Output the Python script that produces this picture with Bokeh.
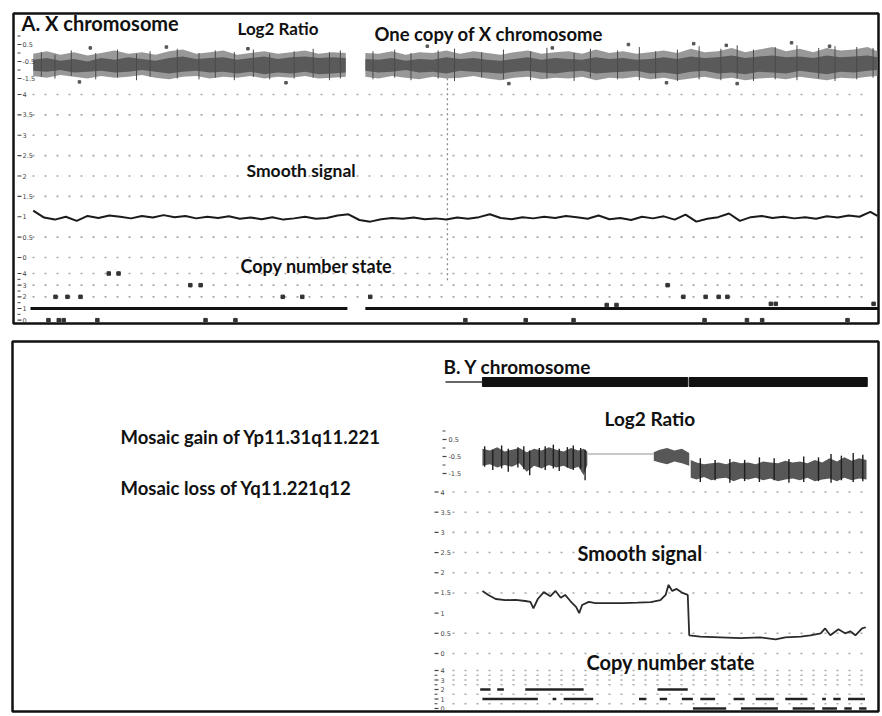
from bokeh.plotting import figure
from bokeh.models import Range1d
from bokeh.core.properties import value
from bokeh.embed import file_html
from bokeh.resources import INLINE

# ---------------- DATA ----------------
# Panel A: X chromosome, positions in Mb
a_log_left_pos = [0.5, 3, 5.5, 8, 10.5, 13, 15.5, 18, 20.5, 23, 25.5, 28, 30.5, 33, 35.5, 38, 40.5, 43, 45.5, 48, 50.5, 53, 55.5, 58]
a_log_left_hi = [-0.05, 0.10, -0.10, 0.05, -0.15, 0.00, 0.15, -0.05, 0.05, -0.10, 0.10, 0.20, -0.05, 0.05, 0.15, -0.10, 0.00, 0.10, -0.05, 0.05, 0.15, -0.05, 0.05, 0.00]
a_log_left_lo = [-1.35, -1.45, -1.30, -1.40, -1.50, -1.35, -1.45, -1.40, -1.30, -1.45, -1.55, -1.40, -1.35, -1.50, -1.40, -1.45, -1.35, -1.50, -1.40, -1.45, -1.35, -1.50, -1.45, -1.40]
a_log_left_core_hi = [-0.40, -0.30, -0.45, -0.35, -0.50, -0.30, -0.40, -0.25, -0.35, -0.45, -0.30, -0.20, -0.35, -0.30, -0.25, -0.40, -0.30, -0.20, -0.35, -0.25, -0.20, -0.30, -0.25, -0.30]
a_log_left_core_lo = [-1.05, -1.10, -1.00, -1.15, -1.10, -1.05, -1.15, -1.10, -1.00, -1.10, -1.20, -1.10, -1.05, -1.15, -1.10, -1.20, -1.10, -1.25, -1.15, -1.20, -1.10, -1.25, -1.20, -1.15]

a_log_right_pos = [61.6, 64, 66.5, 69, 71.5, 74, 76.5, 79, 81.5, 84, 86.5, 89, 91.5, 94, 96.5, 99, 101.5, 104, 106.5, 109, 111.5, 114, 116.5, 119, 121.5, 124, 126.5, 129, 131.5, 134, 136.5, 139, 141.5, 144, 146.5, 149, 151.5, 154, 155.8]
a_log_right_hi = [0.00, -0.05, 0.10, -0.10, 0.05, 0.00, 0.15, -0.05, 0.10, 0.00, -0.10, 0.05, 0.15, -0.05, 0.05, 0.10, -0.05, 0.20, 0.00, 0.10, -0.05, 0.05, 0.15, 0.00, 0.25, 0.05, 0.10, 0.30, 0.05, 0.20, 0.35, 0.10, 0.25, 0.05, 0.30, 0.15, 0.20, 0.35, 0.10]
a_log_right_lo = [-1.40, -1.50, -1.35, -1.45, -1.55, -1.40, -1.50, -1.45, -1.35, -1.50, -1.60, -1.45, -1.40, -1.55, -1.45, -1.50, -1.40, -1.60, -1.45, -1.50, -1.40, -1.55, -1.45, -1.60, -1.50, -1.40, -1.55, -1.45, -1.60, -1.50, -1.45, -1.55, -1.40, -1.50, -1.60, -1.45, -1.50, -1.40, -1.35]
a_log_right_core_hi = [-0.35, -0.40, -0.30, -0.45, -0.35, -0.40, -0.25, -0.35, -0.30, -0.40, -0.45, -0.35, -0.25, -0.40, -0.30, -0.35, -0.40, -0.25, -0.35, -0.30, -0.40, -0.35, -0.25, -0.35, -0.20, -0.30, -0.25, -0.15, -0.30, -0.20, -0.15, -0.25, -0.20, -0.30, -0.15, -0.25, -0.20, -0.15, -0.25]
a_log_right_core_lo = [-1.05, -1.15, -1.10, -1.00, -1.15, -1.10, -1.20, -1.05, -1.10, -1.15, -1.20, -1.10, -1.05, -1.15, -1.20, -1.10, -1.05, -1.20, -1.15, -1.10, -1.05, -1.20, -1.15, -1.25, -1.10, -1.05, -1.20, -1.15, -1.25, -1.10, -1.15, -1.20, -1.05, -1.15, -1.25, -1.10, -1.15, -1.05, -1.00]

a_log_spike_pos = [2, 4.5, 7.5, 12, 16, 19.5, 22, 27, 31, 34, 37.5, 41, 44, 48.5, 52, 55, 57,
                   63, 67, 70, 75, 78, 83, 87, 92, 95, 100, 103, 108, 112, 115, 119, 123, 127, 130, 133, 137, 141, 145, 148, 152, 155]
a_log_spike_top = [0.05, -0.10, 0.15, 0.00, 0.20, -0.05, 0.10, 0.25, 0.00, 0.15, 0.05, 0.20, -0.05, 0.10, 0.25, 0.05, 0.15,
                   0.10, 0.20, 0.00, 0.15, 0.25, 0.05, 0.20, 0.10, 0.30, 0.00, 0.25, 0.15, 0.35, 0.10, 0.20, 0.40, 0.25, 0.45, 0.20, 0.35, 0.45, 0.30, 0.40, 0.35, 0.30]
a_log_spike_bot = [-1.40, -1.50, -1.35, -1.55, -1.45, -1.60, -1.40, -1.50, -1.55, -1.45, -1.60, -1.40, -1.55, -1.50, -1.45, -1.60, -1.50,
                   -1.55, -1.45, -1.60, -1.50, -1.65, -1.45, -1.55, -1.60, -1.50, -1.65, -1.45, -1.55, -1.60, -1.50, -1.65, -1.55, -1.60, -1.50, -1.65, -1.55, -1.60, -1.50, -1.65, -1.55, -1.45]

a_log_out_pos = [11, 25, 40, 73, 96, 110, 122, 128, 140, 147, 9, 47, 88, 117, 130]
a_log_out_val = [0.30, 0.35, 0.25, 0.40, 0.30, 0.50, 0.55, 0.45, 0.60, 0.40, -1.70, -1.75, -1.80, -1.75, -1.80]

a_smooth_pos = [0.5, 2.5, 4.5, 6.5, 8.5, 10.5, 12.5, 14.5, 16.5, 18.5, 20.5, 22.5, 24.5, 26.5, 28.5, 30.5, 32.5, 34.5, 36.5, 38.5,
                40.5, 42.5, 44.5, 46.5, 48.5, 50.5, 52.5, 54.5, 56.5, 58.5, 60.5, 62.5, 64.5, 66.5, 68.5, 70.5, 72.5, 74.5, 76.5, 78.5,
                80.5, 82.5, 84.5, 86.5, 88.5, 90.5, 92.5, 94.5, 96.5, 98.5, 100.5, 102.5, 104.5, 106.5, 108.5, 110.5, 112.5, 114.5, 116.5, 118.5,
                120.5, 122.5, 124.5, 126.5, 128.5, 130.5, 132.5, 134.5, 136.5, 138.5, 140.5, 142.5, 144.5, 146.5, 148.5, 150.5, 152.5, 154.5, 155.8]
a_smooth_val = [1.15, 0.98, 0.93, 1.00, 0.90, 1.02, 0.97, 1.03, 1.00, 0.96, 1.02, 0.98, 1.04, 0.99, 1.02, 0.96, 1.00, 0.97, 1.01, 0.95,
                0.98, 0.94, 0.99, 0.93, 0.96, 1.00, 0.95, 0.97, 1.03, 1.06, 0.92, 0.88, 0.94, 0.97, 0.95, 0.98, 0.94, 0.96, 0.93, 0.98,
                0.95, 0.99, 1.06, 0.97, 0.94, 0.99, 0.96, 1.00, 0.97, 1.02, 0.99, 0.95, 1.03, 0.94, 0.97, 0.92, 1.00, 0.96, 1.01, 0.93,
                1.05, 0.88, 0.95, 0.99, 1.08, 0.90, 0.99, 1.02, 0.97, 1.00, 0.96, 0.99, 0.95, 1.01, 0.98, 1.03, 1.00, 1.12, 1.02]

a_cn_seg_start = [0.0, 61.6]
a_cn_seg_end = [58.3, 156.0]
a_cn_seg_state = [1, 1]
a_cn_mark_pos = [4.6, 6.8, 9.2, 14.4, 16.2, 29.4, 31.3, 46.4, 50.0, 62.5, 3.3, 5.2, 6.1, 12.3, 32.2, 37.7,
                 117.2, 120.1, 124.2, 126.6, 128.2, 136.2, 137.1, 106.0, 107.8, 155.1, 80.0, 91.1, 99.9, 124.0, 131.8, 134.6, 150.3]
a_cn_mark_state = [2, 2, 2, 4, 4, 3, 3, 2, 2, 2, 0, 0, 0, 0, 0, 0,
                   3, 2, 2, 2, 2, 1.4, 1.4, 1.3, 1.3, 1.4, 0, 0, 0, 0, 0, 0, 0]
a_cursor_mb = [76.7]

# Panel B: Y chromosome, positions in Mb
b_log_s1_pos = [5.0, 6.0, 7.0, 8.0, 9.0, 10.0, 11.0, 12.0, 13.0, 14.0, 15.0, 16.0, 17.0, 18.0, 18.7, 19.2]
b_log_s1_hi = [-0.05, -0.15, 0.05, -0.20, -0.10, 0.00, -0.25, -0.05, -0.15, 0.05, -0.10, -0.20, 0.00, -0.15, -0.05, -0.20]
b_log_s1_lo = [-1.05, -0.95, -1.15, -1.00, -1.10, -0.90, -1.40, -1.05, -1.20, -1.00, -1.15, -1.05, -1.25, -1.10, -1.60, -1.00]
b_log_s2_pos = [28.2, 29.0, 30.0, 31.0, 32.0, 33.0]
b_log_s2_hi = [-0.25, -0.10, 0.00, -0.15, -0.05, -0.30]
b_log_s2_lo = [-0.75, -0.85, -0.95, -0.80, -0.90, -1.05]
b_log_s3_pos = [33.2, 34, 35, 36, 37, 38, 39, 40, 41, 42, 43, 44, 45, 46, 47, 48, 49, 50, 51, 52, 53, 54, 55, 56, 57]
b_log_s3_hi = [-0.70, -0.85, -0.95, -0.90, -0.85, -0.95, -0.80, -0.90, -0.85, -0.95, -0.80, -0.85, -0.90, -0.75, -0.85, -0.80, -0.90, -0.70, -0.85, -0.60, -0.80, -0.55, -0.75, -0.60, -0.70]
b_log_s3_lo = [-1.75, -1.85, -1.70, -1.90, -1.80, -1.75, -1.95, -1.80, -1.85, -1.75, -1.90, -1.80, -1.95, -1.85, -1.80, -1.90, -1.75, -1.95, -1.85, -1.80, -1.95, -1.75, -1.90, -1.80, -1.85]
b_log_link_pos = [19.2, 28.2]
b_log_link_val = [-0.35, -0.35]
b_log_spike_pos = [5.3, 6.4, 7.6, 8.5, 9.8, 10.6, 11.4, 12.7, 13.5, 14.6, 15.4, 16.5, 17.3, 18.3, 18.9,
                   34.5, 36.5, 38.5, 40.5, 42.5, 44.5, 46.5, 48.5, 50.5, 52.2, 53.6, 55.2, 56.5]
b_log_spike_top = [0.10, -0.10, 0.15, -0.05, 0.05, 0.10, -0.15, 0.00, 0.10, 0.20, -0.05, 0.05, 0.15, 0.00, -0.10,
                   -0.60, -0.70, -0.65, -0.70, -0.55, -0.60, -0.65, -0.50, -0.55, -0.35, -0.45, -0.30, -0.40]
b_log_spike_bot = [-1.10, -1.30, -1.20, -1.40, -1.15, -1.25, -1.60, -1.10, -1.30, -1.20, -1.35, -1.15, -1.30, -1.20, -1.90,
                   -2.00, -1.90, -2.05, -1.95, -2.00, -1.90, -2.05, -2.00, -1.95, -2.05, -1.90, -2.00, -1.95]

b_smooth_pos = [5.0, 5.8, 6.8, 8.1, 9.5, 10.8, 11.5, 11.9, 12.5, 13.3, 14.2, 14.9, 15.6, 16.2, 16.9, 17.7, 18.1, 18.5, 19.4, 20.3,
                22.0, 24.0, 26.0, 27.8, 29.1, 29.8, 30.2, 30.7, 31.3, 32.1, 32.8, 33.0, 34.5, 37.2, 39.9, 42.6, 44.7, 46.0, 48.1, 49.4,
                50.8, 51.4, 52.1, 53.2, 54.1, 54.8, 55.5, 56.4, 56.9]
b_smooth_val = [1.55, 1.45, 1.35, 1.32, 1.33, 1.30, 1.28, 1.12, 1.35, 1.52, 1.42, 1.55, 1.38, 1.45, 1.30, 1.15, 1.00, 1.20, 1.28, 1.25,
                1.25, 1.25, 1.26, 1.27, 1.32, 1.45, 1.70, 1.55, 1.60, 1.50, 1.45, 0.45, 0.42, 0.40, 0.38, 0.40, 0.35, 0.40, 0.42, 0.45,
                0.50, 0.62, 0.45, 0.60, 0.50, 0.55, 0.45, 0.62, 0.65]

b_cn_seg_start = [4.7, 7.0, 10.8, 28.7, 5.0, 14.5, 16.0, 26.2, 29.0, 32.0, 34.5, 39.0, 42.0, 46.0, 51.0, 52.5, 54.5,
                  33.5, 40.0, 47.0, 51.0, 54.0, 56.0]
b_cn_seg_end = [6.1, 7.9, 18.7, 32.8, 12.5, 15.0, 20.0, 27.2, 30.0, 33.5, 36.5, 40.5, 44.5, 49.0, 51.5, 53.5, 56.8,
                38.0, 45.0, 50.0, 53.0, 55.0, 57.0]
b_cn_seg_state = [2, 2, 2, 2, 1, 1, 1, 1, 1, 1, 1, 1, 1, 1, 1, 1, 1,
                  0, 0, 0, 0, 0, 0]

b_ideo_start = [5.0, 33.0]
b_ideo_end = [32.8, 57.1]
b_ideo_lead = [0.0, 5.0]

# Axis ticks
log_ticks = [0.5, -0.5, -1.5]
log_tick_labels = ["0.5", "-0.5", "-1.5"]
log_minor = [1.0, 0.0, -1.0]
smooth_ticks = [4, 3.5, 3, 2.5, 2, 1.5, 1, 0.5, 0]
smooth_tick_labels = ["4", "3.5", "3", "2.5", "2", "1.5", "1", "0.5", "0"]
cn_ticks = [4, 3, 2, 1, 0]
cn_tick_labels = ["4", "3", "2", "1", "0"]
cn_minor = [3.5, 2.5, 1.5, 0.5]
smooth_grid = [4, 3.5, 3, 2.5, 2, 1.5, 0.5, 0]
cn_grid_a = [4, 3, 2]
cn_grid_b = [4, 3.5, 3, 2.5, 1.5, 0.5]

# ---------------- FIGURE ----------------
W, H = 880, 714
X0, X1 = 0, W      # page coordinates covered by the frame
YB, YT = H, 0


def xr(v1, px1, v2, px2):
    k = (v2 - v1) / (px2 - px1)
    return Range1d(start=v1 + (X0 - px1) * k, end=v1 + (X1 - px1) * k)


def yr(v1, py1, v2, py2):
    k = (v2 - v1) / (py2 - py1)
    return Range1d(start=v1 + (YB - py1) * k, end=v1 + (YT - py1) * k)


p = figure(width=W, height=H, x_range=Range1d(X0, X1), y_range=Range1d(YB, YT),
           output_backend="svg", toolbar_location=None, min_border=0,
           x_axis_location=None, y_axis_location=None)
p.grid.visible = False
p.outline_line_color = None
p.background_fill_color = "white"

p.extra_x_ranges = {"xA": xr(0, 30, 156, 878), "xB": xr(0, 445, 57, 866)}
p.extra_y_ranges = {
    "a_log": yr(0.5, 44, -1.5, 78),
    "a_sm": yr(0, 257, 4, 94),
    "a_cn": yr(1, 308, 4, 273),
    "b_log": yr(0.5, 439, -1.5, 473),
    "b_sm": yr(0, 653, 4, 491.5),
    "b_cn": yr(0, 708, 4, 670),
}

GRID = dict(line_color="#a8a8a8", line_width=1.6, line_dash="2 10")
TICKC = "#444444"
FONT = value("Lato")


def ticks(yname, vals, labels, minor, tx0, lx):
    p.segment(x0=[tx0] * len(vals), x1=[tx0 + 4] * len(vals), y0=vals, y1=vals,
              y_range_name=yname, line_color=TICKC, line_width=1.2)
    if minor:
        p.segment(x0=[tx0] * len(minor), x1=[tx0 + 3] * len(minor), y0=minor, y1=minor,
                  y_range_name=yname, line_color=TICKC, line_width=1.0)
    p.text(x=[lx] * len(vals), y=vals, text=labels, y_range_name=yname,
           text_font=value("DejaVu Sans"), text_font_size="6.5px", text_color=TICKC,
           text_baseline="middle", text_align="left")


def grid(yname, vals, gx0, gx1):
    p.segment(x0=[gx0] * len(vals), x1=[gx1] * len(vals), y0=vals, y1=vals,
              y_range_name=yname, **GRID)


# panel frames
p.quad(left=[13, 12], right=[878, 878], top=[13, 341], bottom=[323, 711],
       fill_color=None, line_color="#111111", line_width=2.5)

# ----- Panel A -----
grid("a_sm", smooth_grid, 32, 872)
grid("a_cn", cn_grid_a, 32, 872)
p.segment(x0=a_cursor_mb, x1=a_cursor_mb, y0=[4.4], y1=[-0.6], x_range_name="xA",
          y_range_name="a_sm", line_color="#888888", line_width=1.3, line_dash="2 3")

for pos, hi, lo, chi, clo in [
    (a_log_left_pos, a_log_left_hi, a_log_left_lo, a_log_left_core_hi, a_log_left_core_lo),
    (a_log_right_pos, a_log_right_hi, a_log_right_lo, a_log_right_core_hi, a_log_right_core_lo),
]:
    p.varea(x=pos, y1=lo, y2=hi, x_range_name="xA", y_range_name="a_log",
            fill_color="#8d8d8d", fill_alpha=0.9)
    p.varea(x=pos, y1=clo, y2=chi, x_range_name="xA", y_range_name="a_log",
            fill_color="#4f4f4f", fill_alpha=0.85)
p.segment(x0=a_log_spike_pos, x1=a_log_spike_pos, y0=a_log_spike_bot, y1=a_log_spike_top,
          x_range_name="xA", y_range_name="a_log", line_color="#4a4a4a", line_width=1.0)
p.scatter(x=a_log_out_pos, y=a_log_out_val, x_range_name="xA", y_range_name="a_log",
          marker="square", size=2.5, color="#555555")

p.line(x=a_smooth_pos, y=a_smooth_val, x_range_name="xA", y_range_name="a_sm",
       line_color="#1a1a1a", line_width=2.0)

p.segment(x0=a_cn_seg_start, x1=a_cn_seg_end, y0=a_cn_seg_state, y1=a_cn_seg_state,
          x_range_name="xA", y_range_name="a_cn", line_color="#111111", line_width=3.2)
p.scatter(x=a_cn_mark_pos, y=a_cn_mark_state, x_range_name="xA", y_range_name="a_cn",
          marker="square", size=3.5, color="#333333")

ticks("a_log", log_ticks, log_tick_labels, log_minor, 17, 22)
ticks("a_sm", smooth_ticks, smooth_tick_labels, None, 17, 22)
ticks("a_cn", cn_ticks, cn_tick_labels, cn_minor, 17, 22)

# ----- Panel B -----
grid("b_sm", smooth_grid, 452, 862)
grid("b_cn", cn_grid_b, 452, 866)

p.quad(left=b_ideo_start, right=b_ideo_end, top=[377, 377], bottom=[386, 386],
       x_range_name="xB", fill_color="#111111", line_color="#111111")
p.line(x=b_ideo_lead, y=[381.5, 381.5], x_range_name="xB", line_color="#333333", line_width=1.5)

for pos, hi, lo in [(b_log_s1_pos, b_log_s1_hi, b_log_s1_lo),
                    (b_log_s2_pos, b_log_s2_hi, b_log_s2_lo),
                    (b_log_s3_pos, b_log_s3_hi, b_log_s3_lo)]:
    p.varea(x=pos, y1=lo, y2=hi, x_range_name="xB", y_range_name="b_log",
            fill_color="#3a3a3a", fill_alpha=0.85)
p.segment(x0=b_log_spike_pos, x1=b_log_spike_pos, y0=b_log_spike_bot, y1=b_log_spike_top,
          x_range_name="xB", y_range_name="b_log", line_color="#1e1e1e", line_width=1.4)
p.line(x=b_log_link_pos, y=b_log_link_val, x_range_name="xB", y_range_name="b_log",
       line_color="#b5b5b5", line_width=1.5)

p.line(x=b_smooth_pos, y=b_smooth_val, x_range_name="xB", y_range_name="b_sm",
       line_color="#2a2a2a", line_width=1.8)

p.segment(x0=b_cn_seg_start, x1=b_cn_seg_end, y0=b_cn_seg_state, y1=b_cn_seg_state,
          x_range_name="xB", y_range_name="b_cn", line_color="#222222", line_width=2.5)

ticks("b_log", log_ticks, log_tick_labels, log_minor, 442, 448)
ticks("b_sm", smooth_ticks, smooth_tick_labels, None, 434, 440)
ticks("b_cn", cn_ticks, cn_tick_labels, cn_minor, 434, 440)

# ----- texts -----
def label(x, y, txt, size):
    p.text(x=[x], y=[y], text=[txt], text_font=FONT, text_font_style="bold",
           text_font_size=size, text_color="#111111", text_baseline="middle", text_align="left")


label(21, 22, "A. X chromosome", "20px")
label(237, 28, "Log2 Ratio", "17px")
label(374, 33, "One copy of X chromosome", "18.5px")
label(246, 170, "Smooth signal", "17.5px")
label(240, 265, "Copy number state", "18px")

label(443, 366, "B. Y chromosome", "19px")
label(604, 418, "Log2 Ratio", "19px")
label(577, 552, "Smooth signal", "20px")
label(586, 661, "Copy number state", "20px")
label(120, 436, "Mosaic gain of Yp11.31q11.221", "18.5px")
label(120, 487, "Mosaic loss of Yq11.221q12", "18.5px")

open("out.html", "w").write(file_html(p, INLINE))
